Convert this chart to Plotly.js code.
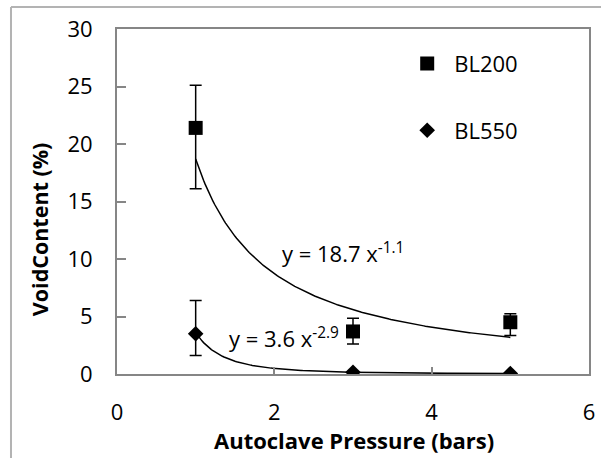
<!DOCTYPE html>
<html>
<head>
<meta charset="utf-8">
<script src="https://cdn.plot.ly/plotly-3.0.1.min.js"></script>
<style>html,body{margin:0;padding:0;background:#fff;}#chart{width:601px;height:458px;}</style>
</head>
<body>
<div id="chart"></div>
<script>
// ---- data ----
var pressure = [1, 3, 5];
var bl200 = [21.4, 3.7, 4.5];
var bl200ErrPlus = [3.7, 1.15, 0.75];
var bl200ErrMinus = [5.3, 1.1, 1.15];
var bl550 = [3.5, 0.15, 0.05];
var bl550ErrPlus = [2.9, 0, 0];
var bl550ErrMinus = [1.9, 0, 0];
var seriesNames = ['BL200', 'BL550'];
// power trendlines shown on the chart: y = a x^b
var trendA = [18.7, 3.6];
var trendB = [-1.1, -2.9];
var trendRange = [1, 5];
var xTicks = [0, 2, 4, 6];
var yTicks = [0, 5, 10, 15, 20, 25, 30];

var FONT = 'Open Sans, Liberation Sans, sans-serif';
var GRAY = '#868686';

function trendCurve(a, b) {
  var xs = [], ys = [];
  var n = 200;
  for (var i = 0; i <= n; i++) {
    var x = trendRange[0] + (trendRange[1] - trendRange[0]) * i / n;
    xs.push(x); ys.push(a * Math.pow(x, b));
  }
  return {xs: xs, ys: ys};
}
var t1 = trendCurve(trendA[0], trendB[0]);
var t2 = trendCurve(trendA[1], trendB[1]);

var traces = [
  {x: t1.xs, y: t1.ys, mode: 'lines', line: {color: '#000', width: 1.5}, showlegend: false, hoverinfo: 'skip'},
  {x: t2.xs, y: t2.ys, mode: 'lines', line: {color: '#000', width: 1.5}, showlegend: false, hoverinfo: 'skip'},
  {x: pressure, y: bl200, name: seriesNames[0], legendgroup: 'a', mode: 'markers', type: 'scatter',
   marker: {symbol: 'square', size: 14, color: '#000'},
   error_y: {type: 'data', symmetric: false, array: bl200ErrPlus, arrayminus: bl200ErrMinus, color: '#000', thickness: 1.5, width: 6}},
  {x: pressure, y: bl550, name: seriesNames[1], legendgroup: 'b', mode: 'markers', type: 'scatter',
   marker: {symbol: 'diamond', size: 12, color: '#000'},
   error_y: {type: 'data', symmetric: false, array: bl550ErrPlus, arrayminus: bl550ErrMinus, color: '#000', thickness: 1.5, width: 6}}
];

var layout = {
  width: 601, height: 458,
  margin: {l: 117, r: 12, t: 29, b: 84, pad: 0},
  paper_bgcolor: '#fff', plot_bgcolor: '#fff',
  font: {family: FONT, size: 22, color: '#000'},
  showlegend: true,
  legend: {x: 0.6, y: 0.96, xanchor: 'left', yanchor: 'top', bgcolor: 'rgba(0,0,0,0)',
           font: {family: FONT, size: 22, color: '#000'}, traceorder: 'grouped', tracegroupgap: 35, itemwidth: 44},
  xaxis: {range: [0, 6], tickvals: xTicks, ticktext: xTicks.map(String), showgrid: false, zeroline: false,
          showline: true, linecolor: GRAY, linewidth: 2, mirror: true,
          ticks: 'inside', ticklen: 7, tickwidth: 2, tickcolor: GRAY, ticklabelstandoff: 18,
          tickfont: {family: FONT, size: 22}},
  yaxis: {range: [0, 30], tickvals: yTicks, ticktext: yTicks.map(String), showgrid: false, zeroline: false,
          showline: true, linecolor: GRAY, linewidth: 2, mirror: true,
          ticks: 'inside', ticklen: 9, tickwidth: 2, tickcolor: GRAY, ticklabelstandoff: 18,
          tickfont: {family: FONT, size: 22}},
  annotations: [
    {xref: 'paper', yref: 'paper', x: 0.502, y: -0.192, xanchor: 'center', yanchor: 'middle', showarrow: false,
     text: '<b>Autoclave Pressure (bars)</b>', font: {family: FONT, size: 22}},
    {xref: 'paper', yref: 'paper', x: -0.165, y: 0.42, xanchor: 'center', yanchor: 'middle', showarrow: false, textangle: -90,
     text: '<b>VoidContent (%)</b>', font: {family: FONT, size: 21.5}},
    {xref: 'x', yref: 'y', x: 2.07, y: 10.6, xanchor: 'left', yanchor: 'middle', showarrow: false,
     text: 'y = ' + trendA[0] + ' x<sup>' + trendB[0] + '</sup>', font: {family: FONT, size: 22}},
    {xref: 'x', yref: 'y', x: 1.4, y: 3.15, xanchor: 'left', yanchor: 'middle', showarrow: false,
     text: 'y = ' + trendA[1] + ' x<sup>' + trendB[1] + '</sup>', font: {family: FONT, size: 22}}
  ],
  shapes: [
    {type: 'line', xref: 'paper', yref: 'paper', x0: -0.2246, x1: 1.03, y0: 1.0638, y1: 1.0638, line: {color: '#b3b3b3', width: 2}},
    {type: 'line', xref: 'paper', yref: 'paper', x0: -0.2246, x1: -0.2246, y0: 1.0638, y1: -0.25, line: {color: '#b3b3b3', width: 2}}
  ]
};

Plotly.newPlot('chart', traces, layout, {staticPlot: true, displayModeBar: false});
</script>
</body>
</html>
